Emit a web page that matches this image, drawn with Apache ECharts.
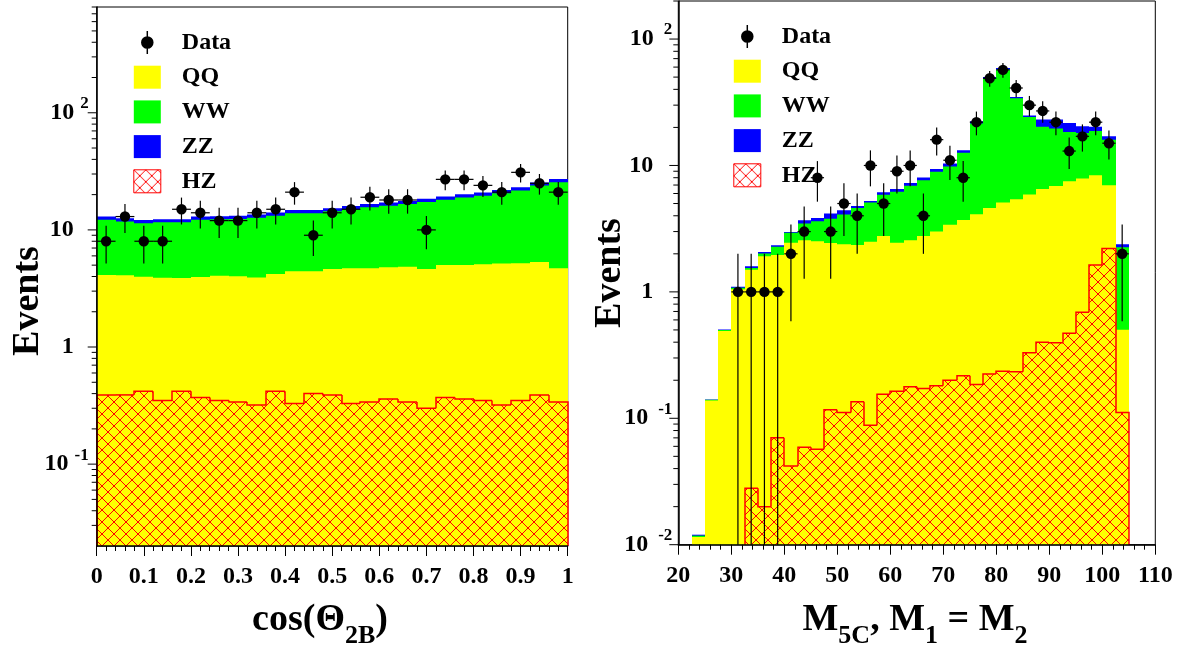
<!DOCTYPE html>
<html><head><meta charset="utf-8">
<script src="https://cdn.jsdelivr.net/npm/echarts@6/dist/echarts.min.js"></script>
<style>html,body{margin:0;padding:0;background:#fff}#c{width:1183px;height:653px}</style>
</head><body><div id="c"></div>
<script>
// ---------------- Left panel: cos(Theta_2B) ----------------
const leftBinLo = [0,0.04,0.08,0.12,0.16,0.2,0.24,0.28,0.32,0.36,0.4,0.44,0.48,0.52,0.56,0.6,0.64,0.68,0.72,0.76,0.8,0.84,0.88,0.92,0.96];
const leftBinWidth = 0.04;
const leftData = [8,13,8,8,15,14,12,12,14,15,21,9,14,15,19,18,18,10,27,27,24,21,31,25,21];
const leftHZ = [0.39,0.39,0.42,0.35,0.42,0.37,0.35,0.34,0.32,0.42,0.33,0.40,0.39,0.33,0.34,0.36,0.34,0.30,0.37,0.36,0.35,0.32,0.35,0.39,0.34];
const leftQQ = [3.73,3.71,3.57,3.56,3.47,3.59,3.70,3.68,3.61,3.78,4.10,4.03,4.25,4.37,4.36,4.44,4.51,4.34,4.65,4.66,4.74,4.85,4.85,4.94,4.36];
const leftWW = [8.08,7.70,7.41,7.69,7.71,8.24,8.25,8.38,8.77,9.00,9.47,9.47,9.76,10.3,10.9,11.3,11.75,12.66,13.08,13.88,14.51,15.43,16.5,18.57,20.8];
const leftZZ = [0.80,0.77,0.74,0.75,0.75,0.79,0.80,0.80,0.83,0.86,0.90,0.90,0.94,0.98,1.00,1.05,1.08,1.12,1.18,1.23,1.27,1.34,1.41,1.55,1.70];
const leftXTicks = {min: 0, max: 1, step: 0.1};
const leftYRange = {min: 0.02, max: 800};
const leftYMajor = [0.1, 1, 10, 100];
const leftYMinor = [0.03,0.04,0.05,0.06,0.07,0.08,0.09,0.2,0.3,0.4,0.5,0.6,0.7,0.8,0.9,2,3,4,5,6,7,8,9,20,30,40,50,60,70,80,90,200,300,400,500,600,700,800];

// ---------------- Right panel: M5C ----------------
const rightBinLo = [20,22.5,25,27.5,30,32.5,35,37.5,40,42.5,45,47.5,50,52.5,55,57.5,60,62.5,65,67.5,70,72.5,75,77.5,80,82.5,85,87.5,90,92.5,95,97.5,100,102.5];
const rightBinWidth = 2.5;
const rightData = [0,0,0,0,1,1,1,1,2,3,8,3,5,4,10,5,9,10,4,16,11,8,22,49,57,41,30,27,22,13,17,22,15,2];
const rightHZ = [0,0,0,0,0,0.028,0.02,0.07,0.042,0.059,0.057,0.117,0.111,0.135,0.088,0.155,0.164,0.178,0.172,0.181,0.2,0.217,0.185,0.224,0.236,0.233,0.33,0.4,0.395,0.47,0.69,1.63,2.2,0.111];
const rightQQ = [0,0.0115,0.138,0.49,1.05,1.47,1.89,1.89,2.4,2.5,2.46,2.32,2.27,2.21,2.4,2.61,2.28,2.38,2.59,2.82,3.2,3.48,3.92,4.38,4.86,5.17,5.57,6.1,6.5,7.03,7.21,6.73,4.77,0.39];
const rightWW = [0,0.0003,0.002,0.01,0.03,0.05,0.1,0.31,0.49,0.91,1.1,1.36,1.71,2.27,2.6,3.09,3.76,4.34,4.89,5.9,6.4,8.9,17.4,43.9,52.4,28.6,18.3,13.7,12.7,10.9,10.2,10.34,9.03,1.75];
const rightZZ = [0,0.0002,0.001,0.005,0.02,0.05,0.06,0.07,0.05,0.22,0.22,0.37,0.34,0.17,0.15,0.29,0.32,0.38,0.38,0.46,0.55,0.6,0.9,1.5,1.5,0.8,0.7,2.9,3.5,3.3,2.3,1.5,1.0,0.13];
const rightXTicks = {min: 20, max: 110, step: 10};
const rightYRange = {min: 0.01, max: 200};
const rightYMajor = [0.01, 0.1, 1, 10, 100];
const rightYMinor = [0.02,0.03,0.04,0.05,0.06,0.07,0.08,0.09,0.2,0.3,0.4,0.5,0.6,0.7,0.8,0.9,2,3,4,5,6,7,8,9,20,30,40,50,60,70,80,90,200];

const legendNames = ['Data', 'QQ', 'WW', 'ZZ', 'HZ'];

// ---------------- styling ----------------
const FONT = "'Liberation Serif','Times New Roman',serif";
const YELLOW = '#ffff00', GREEN = '#00ff00', BLUE = '#0000ff', RED = '#ff0000';

function makeHatch() {
  const c = document.createElement('canvas');
  c.width = 12; c.height = 12;
  const g = c.getContext('2d');
  g.strokeStyle = RED; g.lineWidth = 1;
  for (let k = -1; k <= 1; k++) {
    g.beginPath(); g.moveTo(k * 12 - 2, -2); g.lineTo(k * 12 + 14, 14); g.stroke();
    g.beginPath(); g.moveTo(k * 12 + 14, -2); g.lineTo(k * 12 - 2, 14); g.stroke();
  }
  return c;
}
const HATCH = {image: makeHatch(), repeat: 'repeat'};

function cumulative(list) {
  const out = []; let run = list[0].map(() => 0);
  list.forEach(arr => { run = run.map((v, i) => v + arr[i]); out.push(run); });
  return out;
}

function fillRender(yMin, fill) {
  return function (params, api) {
    const top = api.value(2);
    if (!(top > 0)) return null;
    const a = api.coord([api.value(0), Math.max(top, yMin)]);
    const b = api.coord([api.value(1), yMin]);
    const x0 = Math.round(a[0]), x1 = Math.round(b[0]);
    return {type: 'rect', shape: {x: x0, y: a[1], width: x1 - x0, height: b[1] - a[1]}, style: {fill: fill}};
  };
}
function hatchRender(yMin) {
  return function (params, api) {
    const i = params.dataIndexInside;
    const lo = api.value(0), hi = api.value(1), top = api.value(2);
    const prev = i > 0 ? api.value(2, i - 1) : 0;
    const next = i < params.dataInsideLength - 1 ? api.value(2, i + 1) : 0;
    if (!(top > 0)) return null;
    const a = api.coord([lo, Math.max(top, yMin)]);
    const b = api.coord([hi, yMin]);
    const x0 = Math.round(a[0]), x1 = Math.round(b[0]);
    const yPrev = api.coord([lo, Math.max(prev > 0 ? prev : yMin, yMin)])[1];
    const pts = [[x0, yPrev], [x0, a[1]], [x1, a[1]]];
    if (!(next > 0)) pts.push([x1, b[1]]);
    return {type: 'group', children: [
      {type: 'rect', shape: {x: x0, y: a[1], width: x1 - x0, height: b[1] - a[1]}, style: {fill: HATCH}},
      {type: 'polyline', shape: {points: pts}, style: {stroke: RED, lineWidth: 1.5, fill: null}}
    ]};
  };
}
function dataRender(yMin) {
  return function (params, api) {
    const lo = api.value(0), hi = api.value(1), n = api.value(2);
    if (!(n > 0)) return null;
    const xc = (lo + hi) / 2, err = Math.sqrt(n);
    const c = api.coord([xc, n]);
    const u = api.coord([xc, n + err]);
    const d = api.coord([xc, Math.max(n - err, yMin)]);
    const l = api.coord([lo, n]), r = api.coord([hi, n]);
    return {type: 'group', children: [
      {type: 'line', shape: {x1: c[0], y1: u[1], x2: c[0], y2: d[1]}, style: {stroke: '#000', lineWidth: 1.2}},
      {type: 'line', shape: {x1: l[0], y1: c[1], x2: r[0], y2: c[1]}, style: {stroke: '#000', lineWidth: 1.2}},
      {type: 'circle', shape: {cx: c[0], cy: c[1], r: 5.2}, style: {fill: '#000'}}
    ]};
  };
}
function yTickRender(len) {
  return function (params, api) {
    const p = api.coord([api.value(0), api.value(1)]);
    return {type: 'line', shape: {x1: p[0] - len, y1: p[1], x2: p[0], y2: p[1]}, style: {stroke: '#000', lineWidth: 1}};
  };
}

function panelSeries(idx, binLo, width, data, HZ, QQ, WW, ZZ, yr, xr, major, minor) {
  const [cHZ, cQQ, cWW, cZZ] = cumulative([HZ, QQ, WW, ZZ]);
  const rows = c => binLo.map((lo, i) => [lo, lo + width, c[i]]);
  const base = {type: 'custom', xAxisIndex: idx, yAxisIndex: idx, encode: {x: [0, 1], y: 2}, clip: false, silent: true};
  return [
    Object.assign({}, base, {name: 'ZZ', data: rows(cZZ), renderItem: fillRender(yr.min, BLUE), itemStyle: {color: BLUE}}),
    Object.assign({}, base, {name: 'WW', data: rows(cWW), renderItem: fillRender(yr.min, GREEN), itemStyle: {color: GREEN}}),
    Object.assign({}, base, {name: 'QQ', data: rows(cQQ), renderItem: fillRender(yr.min, YELLOW), itemStyle: {color: YELLOW}}),
    Object.assign({}, base, {name: 'HZ', data: rows(cHZ), renderItem: hatchRender(yr.min), itemStyle: {color: HATCH, borderColor: RED}}),
    Object.assign({}, base, {name: 'Data', data: rows(data), renderItem: dataRender(yr.min), itemStyle: {color: '#000'}, z: 5}),
    {type: 'custom', name: 'ymajor' + idx, xAxisIndex: idx, yAxisIndex: idx, silent: true, clip: false, z: 6,
     encode: {x: 0, y: 1}, data: major.map(v => [xr.min, v]), renderItem: yTickRender(9)},
    {type: 'custom', name: 'yminor' + idx, xAxisIndex: idx, yAxisIndex: idx, silent: true, clip: false, z: 6,
     encode: {x: 0, y: 1}, data: minor.map(v => [xr.min, v]), renderItem: yTickRender(5)}
  ];
}

function logLabel(v) {
  const lg = Math.log10(v), e = Math.round(lg);
  if (Math.abs(lg - e) > 1e-6) return '';
  if (e === 0) return '{n|1}';
  if (e === 1) return '{n|10}';
  return '{b|10}{s|' + e + '}';
}
function yRich(gap, supW) {
  return {
    n: {fontSize: 24, fontWeight: 'bold', fontFamily: FONT, color: '#000', lineHeight: 42, padding: [0, gap + supW, 0, 0]},
    b: {fontSize: 24, fontWeight: 'bold', fontFamily: FONT, color: '#000', lineHeight: 42},
    s: {fontSize: 17, fontWeight: 'bold', fontFamily: FONT, color: '#000', verticalAlign: 'top', padding: [3.5, 0, 0, gap]}
  };
}
function xAxisCfg(idx, r) {
  return {type: 'value', gridIndex: idx, min: r.min, max: r.max, interval: r.step,
    axisLine: {onZero: false, lineStyle: {color: '#000', width: 1.5}},
    axisTick: {length: 10, lineStyle: {color: '#000', width: 1}},
    minorTick: {show: true, splitNumber: 5, length: 5, lineStyle: {color: '#000', width: 1}},
    splitLine: {show: false}, minorSplitLine: {show: false},
    axisLabel: {margin: 19, fontSize: 24, fontWeight: 'bold', fontFamily: FONT, color: '#000'}, z: 10};
}
function yAxisCfg(idx, r, margin, gap) {
  return {type: 'log', logBase: 10, gridIndex: idx, min: r.min, max: r.max,
    axisLine: {show: true, lineStyle: {color: '#000', width: 1.5}},
    axisTick: {show: false}, splitLine: {show: false},
    axisLabel: {margin: margin, formatter: logLabel, rich: yRich(gap, 9)}, z: 10};
}
const dataIcon = 'path://M6 5A6 6 0 1 1 6 17A6 6 0 1 1 6 5ZM5.3 0L6.7 0L6.7 22L5.3 22Z';
function legendCfg(left, top) {
  return {orient: 'vertical', left: left, top: top, itemWidth: 27, itemHeight: 23, itemGap: 10.7, padding: 0,
    selectedMode: false,
    textStyle: {fontSize: 24, fontWeight: 'bold', fontFamily: FONT, color: '#000', lineHeight: 23, padding: [0, 0, 0, 16]},
    data: legendNames.map(n => {
      if (n === 'Data') return {name: n, icon: dataIcon, itemStyle: {color: '#000'}};
      if (n === 'HZ') return {name: n, icon: 'rect', itemStyle: {color: HATCH, borderColor: RED, borderWidth: 1}};
      return {name: n, icon: 'rect'};
    })};
}
const titleRich = {
  m: {fontSize: 38, fontWeight: 'bold', fontFamily: FONT, color: '#000', verticalAlign: 'top'},
  sub: {fontSize: 26, fontWeight: 'bold', fontFamily: FONT, color: '#000', verticalAlign: 'top', padding: [22, 0, 0, 0]}
};
const textBase = {fontSize: 38, fontWeight: 'bold', fontFamily: FONT, fill: '#000'};

const option = {
  animation: false,
  backgroundColor: '#fff',
  grid: [
    {left: 96.7, top: 7, width: 471, height: 539, show: true, borderColor: '#000', borderWidth: 1, backgroundColor: 'transparent'},
    {left: 678.3, top: 1, width: 477, height: 543.7, show: true, borderColor: '#000', borderWidth: 1, backgroundColor: 'transparent'}
  ],
  xAxis: [xAxisCfg(0, leftXTicks), xAxisCfg(1, rightXTicks)],
  yAxis: [yAxisCfg(0, leftYRange, 8, 6), yAxisCfg(1, rightYRange, 6, 10)],
  legend: [legendCfg(133.3, 30.5), legendCfg(733.3, 24.5)],
  graphic: [
    {type: 'text', x: 28, y: 301, rotation: Math.PI / 2, style: Object.assign({text: 'Events', align: 'center', verticalAlign: 'middle'}, textBase)},
    {type: 'text', x: 610, y: 273, rotation: Math.PI / 2, style: Object.assign({text: 'Events', align: 'center', verticalAlign: 'middle'}, textBase)},
    {type: 'text', x: 320, y: 601, style: Object.assign({text: '{m|cos(Θ}{sub|2B}{m|)}', rich: titleRich, align: 'center', verticalAlign: 'top'}, textBase)},
    {type: 'text', x: 915, y: 601, style: Object.assign({text: '{m|M}{sub|5C}{m|, M}{sub|1}{m| = M}{sub|2}', rich: titleRich, align: 'center', verticalAlign: 'top'}, textBase)}
  ],
  series: [].concat(
    panelSeries(0, leftBinLo, leftBinWidth, leftData, leftHZ, leftQQ, leftWW, leftZZ, leftYRange, leftXTicks, leftYMajor, leftYMinor),
    panelSeries(1, rightBinLo, rightBinWidth, rightData, rightHZ, rightQQ, rightWW, rightZZ, rightYRange, rightXTicks, rightYMajor, rightYMinor)
  )
};
const chart = echarts.init(document.getElementById('c'), null, {renderer: 'canvas'});
chart.setOption(option);
</script></body></html>
